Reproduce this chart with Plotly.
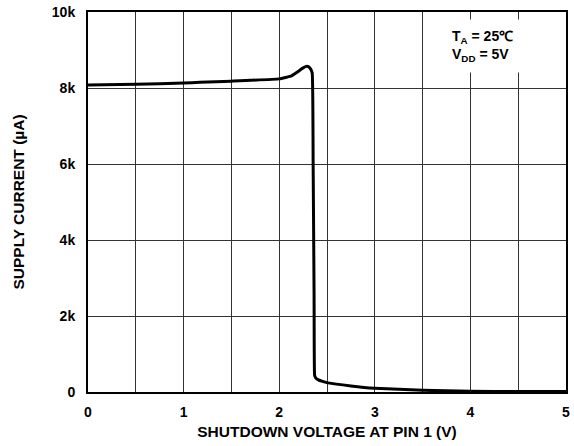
import plotly.graph_objects as go

voltage = [0.0, 0.5, 1.0, 1.17, 1.5, 2.0, 2.13, 2.19, 2.25, 2.29, 2.32, 2.345, 2.355, 2.365, 2.37, 2.38, 2.41, 2.48, 2.51, 2.75, 3.0, 3.5, 4.0, 4.5, 5.0]
current = [8080, 8100, 8130, 8150, 8180, 8240, 8320, 8420, 8530, 8570, 8530, 8400, 6000, 2500, 450, 380, 320, 260, 240, 160, 100, 45, 20, 12, 10]

x_tickvals = [0, 1, 2, 3, 4, 5]
x_ticktext = ["0", "1", "2", "3", "4", "5"]
y_tickvals = [0, 2000, 4000, 6000, 8000, 10000]
y_ticktext = ["0", "2k", "4k", "6k", "8k", "10k"]

font_family = "Liberation Sans, Arial, sans-serif"
tick_font = dict(family=font_family, size=14, color="black", weight="bold")
title_font = dict(family=font_family, size=15.5, color="black", weight="bold")

fig = go.Figure()
fig.add_trace(go.Scatter(
    x=voltage, y=current, mode="lines",
    line=dict(color="black", width=3, shape="spline", smoothing=0.3),
    showlegend=False, hoverinfo="skip",
))

axis_common = dict(
    showline=True, linecolor="black", linewidth=2, mirror=True,
    showgrid=True, gridcolor="#333333", gridwidth=1,
    zeroline=False, ticks="", tickfont=tick_font,
)

fig.update_layout(
    width=574, height=446,
    margin=dict(l=88, r=8, t=12, b=54, autoexpand=False),
    paper_bgcolor="white", plot_bgcolor="white",
    xaxis=dict(
        range=[0, 5], tickmode="array", tickvals=x_tickvals, ticktext=x_ticktext,
        minor=dict(dtick=0.5, showgrid=True, gridcolor="#333333", gridwidth=1, ticks=""),
        ticklabelstandoff=6,
        title=dict(text="SHUTDOWN VOLTAGE AT PIN 1 (V)", standoff=7, font=title_font),
        **axis_common,
    ),
    yaxis=dict(
        range=[0, 10000], tickmode="array", tickvals=y_tickvals, ticktext=y_ticktext,
        ticklabelstandoff=8,
        title=dict(text="SUPPLY CURRENT (µA)", standoff=23, font=title_font),
        **axis_common,
    ),
    annotations=[dict(
        xref="paper", yref="paper", x=0.742, y=0.91,
        xanchor="left", yanchor="middle", align="left",
        text="T<sub>A</sub> = 25℃<br>V<sub>DD</sub> = 5V",
        showarrow=False, bgcolor="white", borderpad=8,
        font=dict(family=font_family, size=14, color="black", weight="bold"),
    )],
)

fig.write_html("out.html", config={"displayModeBar": False},
               post_script="document.body.style.margin='0';document.body.style.overflow='hidden';")
